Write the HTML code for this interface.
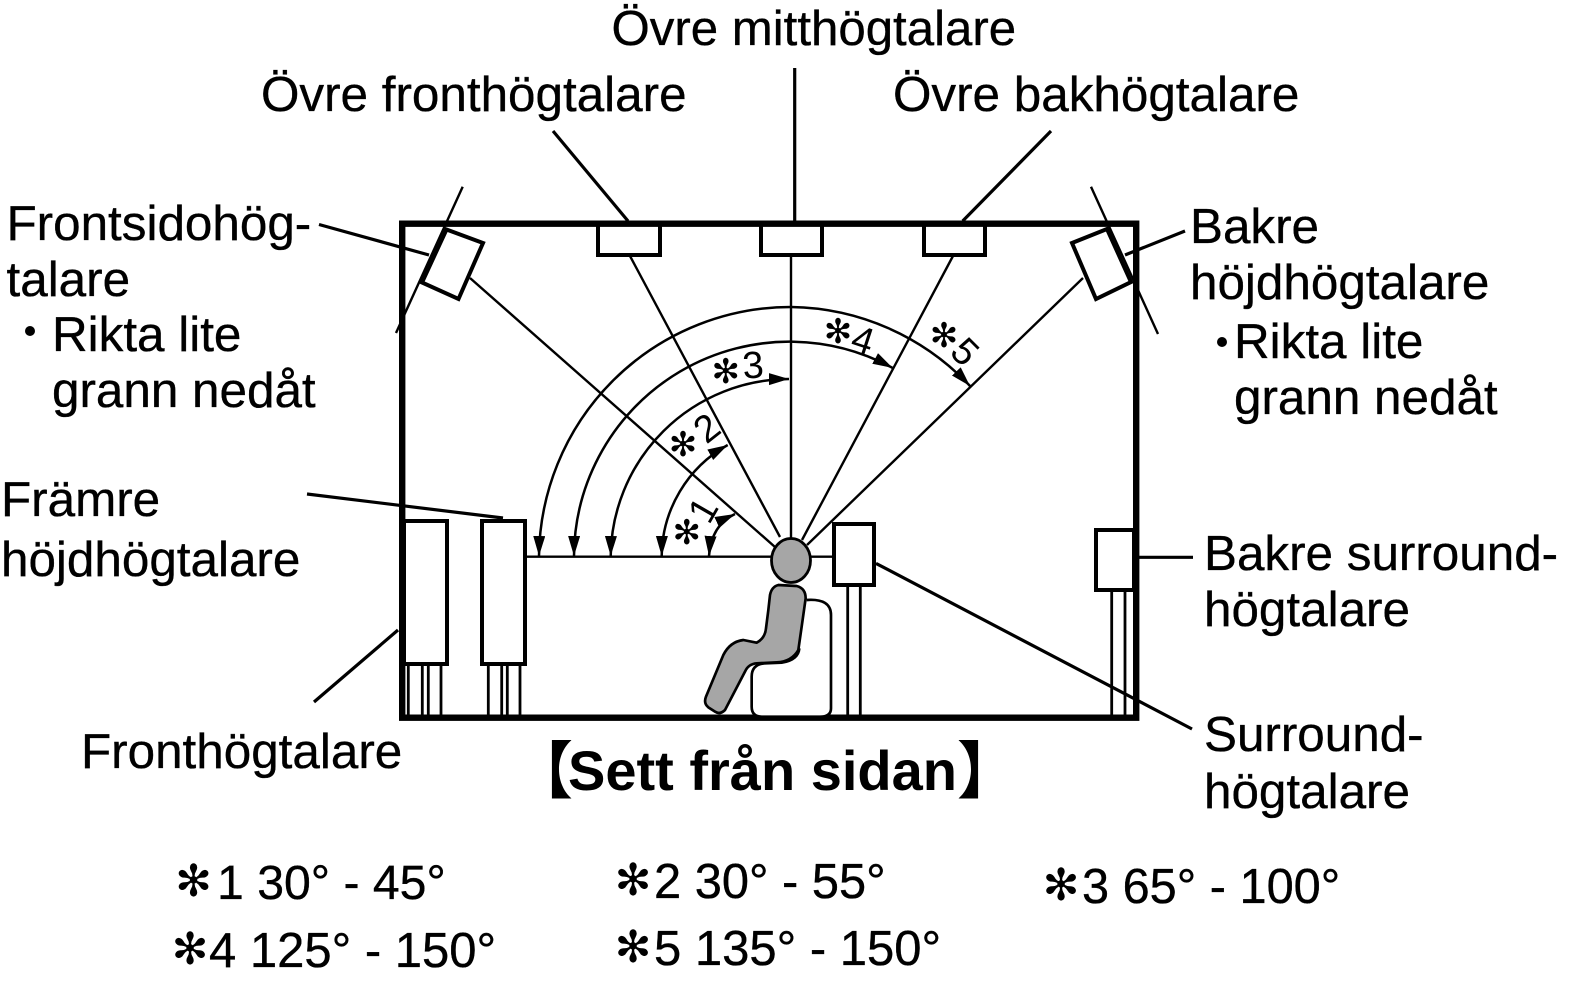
<!DOCTYPE html>
<html>
<head>
<meta charset="utf-8">
<style>
html,body{margin:0;padding:0;background:#fff;}
svg{display:block;}
.t{font-family:"Liberation Sans",sans-serif;font-size:49.4px;fill:#000;stroke:#000;stroke-width:.35px;}
.f{font-family:"Liberation Sans",sans-serif;font-size:49px;fill:#000;stroke:#000;stroke-width:.35px;}
.d{font-family:"Liberation Sans",sans-serif;font-size:38px;fill:#000;text-anchor:middle;}
.a{font-family:"DejaVu Sans",sans-serif;fill:#000;text-anchor:middle;}
.b{font-family:"Liberation Sans",sans-serif;font-size:56px;font-weight:bold;fill:#000;}
.k{font-family:"Noto Sans CJK JP",sans-serif;font-size:62px;font-weight:bold;fill:#000;}
</style>
</head>
<body>
<svg width="1579" height="997" viewBox="0 0 1579 997" xmlns="http://www.w3.org/2000/svg">
<defs>
<marker id="ah" markerUnits="userSpaceOnUse" markerWidth="22" markerHeight="14" refX="20" refY="6" orient="auto-start-reverse">
<path d="M0 0L20 6L0 12Z" fill="#000"/>
</marker>
</defs>
<rect width="1579" height="997" fill="#fff"/>

<g fill="none" stroke="#000" stroke-width="2.4">
<line x1="470" y1="278" x2="775" y2="547"/>
<line x1="630" y1="256" x2="780" y2="537"/>
<line x1="791" y1="256" x2="791" y2="540"/>
<line x1="953" y1="256" x2="802" y2="540"/>
<line x1="1083" y1="278" x2="807" y2="545"/>
<line x1="527" y1="556.7" x2="833" y2="556.7"/>
</g>

<g fill="none" stroke="#000" stroke-width="2.5">
<path d="M709 556Q711.4 525 735 514" marker-start="url(#ah)" marker-end="url(#ah)"/>
<path d="M661.7 556A128.5 128.5 0 0 1 727.7 445" marker-start="url(#ah)" marker-end="url(#ah)"/>
<path d="M610.7 556A179 179 0 0 1 789 379" marker-start="url(#ah)" marker-end="url(#ah)"/>
<path d="M574 556A215.5 215.5 0 0 1 892.7 368" marker-start="url(#ah)" marker-end="url(#ah)"/>
<path d="M539 556A252 252 0 0 1 791 307A250 250 0 0 1 970 386" marker-start="url(#ah)" marker-end="url(#ah)"/>
</g>

<g fill="none" stroke="#000" stroke-width="3.2">
<line x1="319" y1="224.5" x2="429" y2="255"/>
<line x1="553" y1="131" x2="628" y2="221"/>
<line x1="794.7" y1="68" x2="794.7" y2="221"/>
<line x1="1051" y1="131" x2="962.7" y2="221"/>
<line x1="1125" y1="255" x2="1185" y2="231"/>
<line x1="307" y1="494" x2="503" y2="518"/>
<line x1="314" y1="702" x2="398" y2="630"/>
<line x1="876" y1="563.4" x2="1192" y2="729"/>
<line x1="1136" y1="557.3" x2="1193" y2="557.3"/>
</g>

<g fill="none" stroke="#000" stroke-width="2.8">
<line x1="408.3" y1="666" x2="408.3" y2="717"/><line x1="422.3" y1="666" x2="422.3" y2="717"/>
<line x1="428.3" y1="666" x2="428.3" y2="717"/><line x1="441" y1="666" x2="441" y2="717"/>
<line x1="488.3" y1="666" x2="488.3" y2="717"/><line x1="501.7" y1="666" x2="501.7" y2="717"/>
<line x1="507.3" y1="666" x2="507.3" y2="717"/><line x1="520" y1="666" x2="520" y2="717"/>
<line x1="847.7" y1="587" x2="847.7" y2="717"/><line x1="860.3" y1="587" x2="860.3" y2="717"/>
<line x1="1111.7" y1="591" x2="1111.7" y2="717"/><line x1="1125" y1="591" x2="1125" y2="717"/>
</g>

<g fill="#fff" stroke="#000" stroke-width="4">
<rect x="598" y="224" width="62" height="31"/>
<rect x="761" y="224" width="61" height="31"/>
<rect x="924" y="224" width="61" height="31"/>
<rect x="404" y="521" width="43" height="143"/>
<rect x="482" y="521" width="43" height="143"/>
<rect x="834" y="524" width="40" height="61"/>
<rect x="1096" y="530" width="38" height="60"/>
<polygon points="446.5,229.5 483,243 458.5,299 422,282.5"/>
<polygon points="1107,229 1072,243 1096,299 1131,282"/>
</g>

<rect x="402.2" y="223.7" width="734" height="494" fill="none" stroke="#000" stroke-width="6.4"/>

<g fill="none" stroke="#000" stroke-width="2.4">
<line x1="462.7" y1="186.7" x2="396" y2="333"/>
<line x1="1091" y1="186.7" x2="1158" y2="334"/>
</g>

<g transform="translate(380 500) scale(.33333)">
<path d="M1280 300Q1353 295 1353 345L1353 625Q1353 650 1320 650L1145 650Q1115 650 1115 620L1115 530Q1115 490 1160 490L1205 488Q1255 480 1258 445" fill="#fff" stroke="#000" stroke-width="8"/>
<path d="M1195 255L1250 258Q1277 265 1277 295L1265 380L1255 450Q1235 485 1190 487L1130 490Q1105 492 1095 515L1035 630Q1020 645 1005 635L985 622Q970 610 978 590L1030 465Q1050 425 1090 420L1130 428Q1155 415 1158 385L1165 330L1170 285Q1175 260 1195 255Z" fill="#a6a6a6" stroke="#000" stroke-width="8" stroke-linejoin="round"/>
</g>
<ellipse cx="791" cy="560.5" rx="19.5" ry="22" fill="#a6a6a6" stroke="#000" stroke-width="2.8"/>

<text class="a" x="686.7" y="544" font-size="34">✻</text>
<text class="a" x="683" y="456" font-size="34">✻</text>
<text class="a" x="725.7" y="383" font-size="34">✻</text>
<text class="a" x="838" y="343" font-size="34">✻</text>
<text class="a" x="944" y="347" font-size="34">✻</text>
<text class="d" transform="translate(703 510) rotate(-60)" y="13">1</text>
<text class="d" transform="translate(706.7 428) rotate(-38)" y="13">2</text>
<text class="d" transform="translate(753 365) rotate(-4)" y="13">3</text>
<text class="d" transform="translate(863 340) rotate(18)" y="13">4</text>
<text class="d" transform="translate(965 351.7) rotate(45)" y="13">5</text>

<text class="t" x="611.5" y="45" style="font-size:49.2px">Övre mitthögtalare</text>
<text class="t" x="261" y="111">Övre fronthögtalare</text>
<text class="t" x="893" y="111">Övre bakhögtalare</text>
<text class="t" x="6.5" y="240">Frontsidohög-</text>
<text class="t" x="6.5" y="296">talare</text>
<circle cx="30" cy="331" r="5" fill="#000"/>
<text class="t" x="52" y="351">Rikta lite</text>
<text class="t" x="52" y="407">grann nedåt</text>
<text class="t" x="1190" y="243">Bakre</text>
<text class="t" x="1190" y="299">höjdhögtalare</text>
<circle cx="1222" cy="342" r="5" fill="#000"/>
<text class="t" x="1234" y="358">Rikta lite</text>
<text class="t" x="1234" y="414">grann nedåt</text>
<text class="t" x="1" y="516">Främre</text>
<text class="t" x="1" y="576">höjdhögtalare</text>
<text class="t" x="81" y="768">Fronthögtalare</text>
<text class="t" x="1204" y="570">Bakre surround-</text>
<text class="t" x="1204" y="626">högtalare</text>
<text class="t" x="1204" y="751">Surround-</text>
<text class="t" x="1204" y="808">högtalare</text>

<text class="k" x="511" y="793">【</text>
<text class="b" x="568" y="790">Sett från sidan</text>
<text class="k" x="957" y="793">】</text>

<text class="a" x="193.5" y="896" font-size="44">✻</text>
<text class="f" x="217" y="899" style="font-size:48.2px">1 30° - 45°</text>
<text class="a" x="633" y="895" font-size="44">✻</text>
<text class="f" x="654" y="898" style="font-size:48.8px">2 30° - 55°</text>
<text class="a" x="1061" y="900" font-size="44">✻</text>
<text class="f" x="1082" y="903" style="font-size:48.7px">3 65° - 100°</text>
<text class="a" x="190" y="964" font-size="44">✻</text>
<text class="f" x="209" y="967">4 125° - 150°</text>
<text class="a" x="633" y="962" font-size="44">✻</text>
<text class="f" x="654" y="965">5 135° - 150°</text>
</svg>
</body>
</html>
